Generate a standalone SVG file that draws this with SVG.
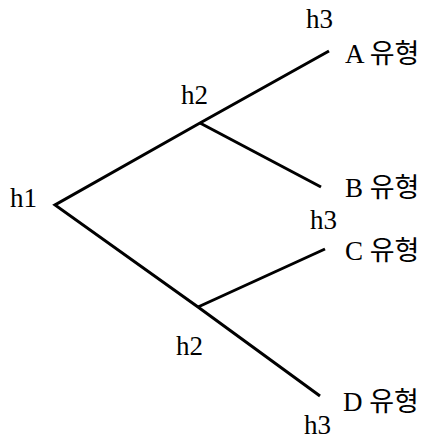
<svg xmlns="http://www.w3.org/2000/svg" width="431" height="442" viewBox="0 0 431 442">
<style>
.e{fill:none;stroke:#000;stroke-width:3;stroke-linecap:butt;stroke-linejoin:miter}
text{font-family:"Liberation Serif","Noto Sans CJK KR",serif;font-size:27px;fill:#000}
</style>
<rect width="431" height="442" fill="#fff"/>
<g id="connectors">
<polyline class="e" points="329,51 200,123 55,205 198,307 320,396"/>
<line class="e" x1="200" y1="123" x2="321" y2="187"/>
<line class="e" x1="198" y1="307" x2="325" y2="249"/>
</g>
<g id="h1"><text x="10" y="207">h1</text></g>
<g id="h2-upper"><text x="181" y="104">h2</text></g>
<g id="h2-lower"><text x="176" y="355">h2</text></g>
<g id="A"><text x="306" y="28">h3</text><text x="345" y="63">A 유형</text></g>
<g id="B"><text x="345" y="197">B 유형</text><text x="310" y="229">h3</text></g>
<g id="C"><text x="345" y="260">C 유형</text></g>
<g id="D"><text x="343" y="411">D 유형</text><text x="304" y="434">h3</text></g>
</svg>
